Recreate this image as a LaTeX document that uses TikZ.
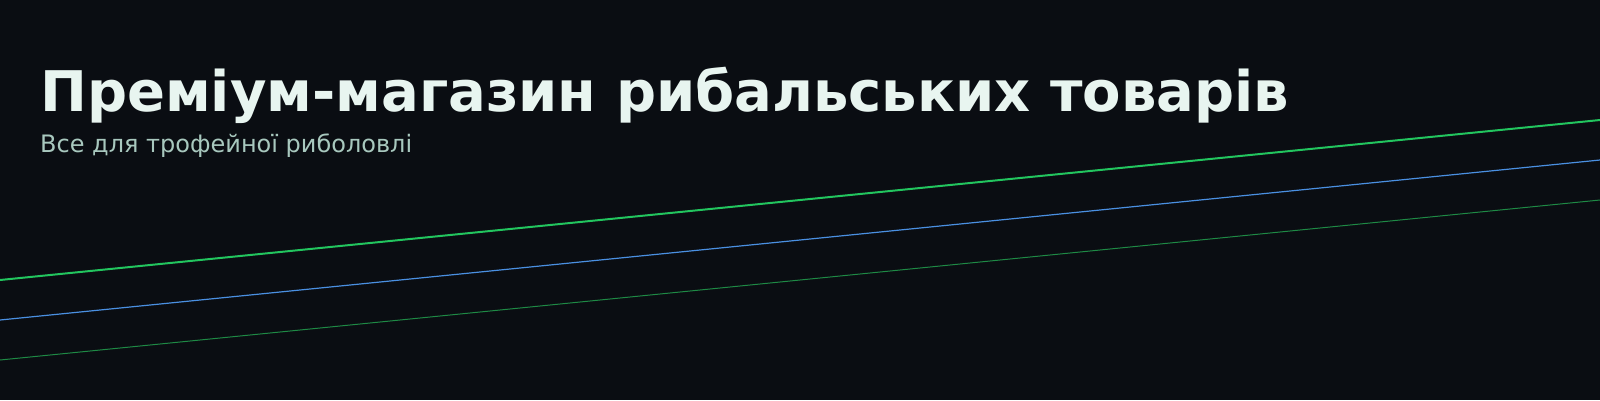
\documentclass[tikz,border=0pt]{standalone}
\usepackage{fontspec}
\setmainfont{DejaVu Sans}
\definecolor{bg}{HTML}{0A0D12}
\definecolor{titlecol}{HTML}{E8F5F0}
\definecolor{subcol}{HTML}{A8C8BE}
\definecolor{lineA}{HTML}{22C55E}
\definecolor{lineB}{HTML}{4A90E2}
\definecolor{lineC}{HTML}{1E8A45}
\tikzset{
  titletext/.style={anchor=base west, inner sep=0pt, text=titlecol, font=\fontsize{56}{64}\selectfont\bfseries},
  subtext/.style={anchor=base west, inner sep=0pt, text=subcol, font=\fontsize{24}{28}\selectfont},
  stripeA/.style={draw=lineA, line width=2pt},
  stripeB/.style={draw=lineB, line width=1.2pt},
  stripeC/.style={draw=lineC, line width=1pt},
}
\begin{document}
\begin{tikzpicture}[x=1pt,y=-1pt]
\fill[bg] (0,0) rectangle (1600,400);
\useasboundingbox (0,0) rectangle (1600,400);
\coordinate (a1) at (0,280); \coordinate (a2) at (1600,120);
\coordinate (b1) at (0,320); \coordinate (b2) at (1600,160);
\coordinate (c1) at (0,360); \coordinate (c2) at (1600,200);
\draw[stripeA] (a1) -- (a2);
\draw[stripeB] (b1) -- (b2);
\draw[stripeC] (c1) -- (c2);
\node[titletext] (title) at (40,111) {Преміум-магазин рибальських товарів};
\node[subtext] (sub) at (40,152) {Все для трофейної риболовлі};
\end{tikzpicture}
\end{document}
